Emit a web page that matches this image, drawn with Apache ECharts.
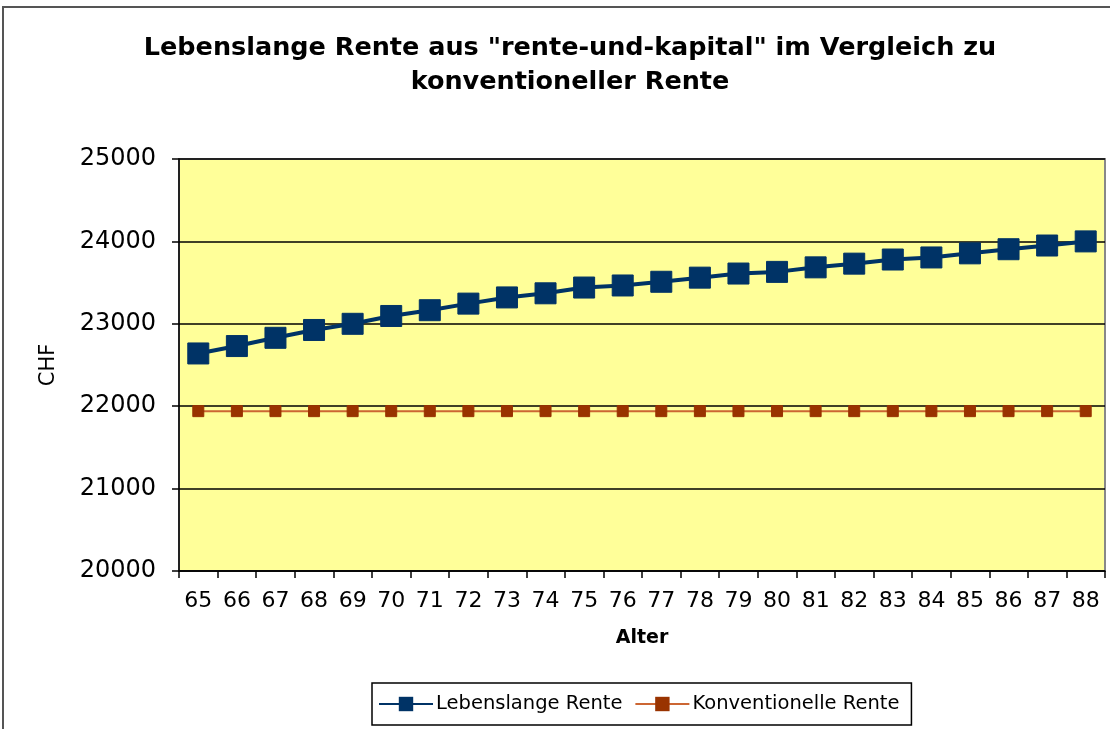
<!DOCTYPE html>
<html>
<head>
<meta charset="utf-8">
<script src="https://cdn.jsdelivr.net/npm/echarts@6/dist/echarts.min.js"></script>
<style>
  html, body { margin: 0; padding: 0; background: #fff; }
  #chart { width: 1110px; height: 729px; }
</style>
</head>
<body>
<div id="chart"></div>
<script>
// Alter (x axis categories)
const ages = ['65','66','67','68','69','70','71','72','73','74','75','76',
              '77','78','79','80','81','82','83','84','85','86','87','88'];
// Lebenslange Rente aus "rente-und-kapital"
const lebenslange = [22640, 22730, 22830, 22925, 23000, 23095, 23165, 23245,
                     23320, 23370, 23440, 23465, 23510, 23560, 23610, 23630,
                     23685, 23730, 23780, 23805, 23855, 23905, 23950, 24000];
// Konventionelle Rente (flat)
const konventionell = [21940, 21940, 21940, 21940, 21940, 21940, 21940, 21940,
                       21940, 21940, 21940, 21940, 21940, 21940, 21940, 21940,
                       21940, 21940, 21940, 21940, 21940, 21940, 21940, 21940];

const chart = echarts.init(document.getElementById('chart'));

chart.setOption({
  backgroundColor: '#fff',
  animation: false,
  title: {
    text: 'Lebenslange Rente aus "rente-und-kapital" im Vergleich zu\nkonventioneller Rente',
    left: 565,
    textAlign: 'center',
    top: 26,
    textStyle: {
      fontFamily: 'DejaVu Sans',
      fontWeight: 'bold',
      fontSize: 25.5,
      lineHeight: 34,
      color: '#000'
    }
  },
  graphic: [
    { type: 'polyline', shape: { points: [[3, 729], [3, 7], [1110, 7]] },
      style: { stroke: '#555', lineWidth: 2, fill: null } },
    { type: 'rect', shape: { x: 179, y: 159, width: 926, height: 412 },
      style: { fill: null, stroke: '#888', lineWidth: 2 }, z: 0 }
  ],
  legend: {
    left: 372,
    top: 683,
    padding: [11, 12, 11, 6],
    itemGap: 12,
    itemWidth: 54,
    itemHeight: 18,
    borderColor: '#000',
    borderWidth: 1.5,
    backgroundColor: '#fff',
    textStyle: { fontFamily: 'DejaVu Sans', fontSize: 19.5, color: '#000', padding: [0, 0, 0, -2] },
    data: ['Lebenslange Rente', 'Konventionelle Rente']
  },
  grid: {
    left: 179,
    right: 5,
    top: 159,
    bottom: 158,
    show: true,
    backgroundColor: '#ffff99',
    borderColor: '#888',
    borderWidth: 2
  },
  xAxis: {
    type: 'category',
    data: ages,
    boundaryGap: true,
    name: 'Alter',
    nameLocation: 'middle',
    nameGap: 58,
    nameTextStyle: { fontFamily: 'DejaVu Sans', fontWeight: 'bold', fontSize: 19, color: '#000' },
    axisLine: { lineStyle: { color: '#000', width: 1.5 } },
    axisTick: { show: true, alignWithLabel: false, length: 7, lineStyle: { color: '#000', width: 1.5 } },
    axisLabel: { fontFamily: 'DejaVu Sans', fontSize: 22, color: '#000', margin: 19, interval: 0 },
    splitLine: { show: false }
  },
  yAxis: {
    type: 'value',
    min: 20000,
    max: 25000,
    interval: 1000,
    name: 'CHF',
    nameLocation: 'middle',
    nameGap: 120,
    nameRotate: 90,
    nameTextStyle: { fontFamily: 'DejaVu Sans', fontSize: 21, color: '#000' },
    axisLine: { show: true, lineStyle: { color: '#000', width: 1.5 } },
    axisTick: { show: true, length: 7, lineStyle: { color: '#000', width: 1.5 } },
    axisLabel: { fontFamily: 'DejaVu Sans', fontSize: 24, color: '#000', margin: 23,
                 formatter: v => String(v) },
    splitLine: { show: true, lineStyle: { color: '#000', width: 1.5 } }
  },
  series: [
    {
      name: 'Lebenslange Rente',
      type: 'line',
      data: lebenslange,
      symbol: 'rect',
      symbolSize: 21,
      itemStyle: { color: '#003366', borderColor: '#003366' },
      lineStyle: { color: '#003366', width: 4 },
      z: 3
    },
    {
      name: 'Konventionelle Rente',
      type: 'line',
      data: konventionell,
      symbol: 'rect',
      symbolSize: 11,
      itemStyle: { color: '#993300', borderColor: '#993300' },
      lineStyle: { color: '#cc6633', width: 2 },
      z: 2
    }
  ]
});
</script>
</body>
</html>
